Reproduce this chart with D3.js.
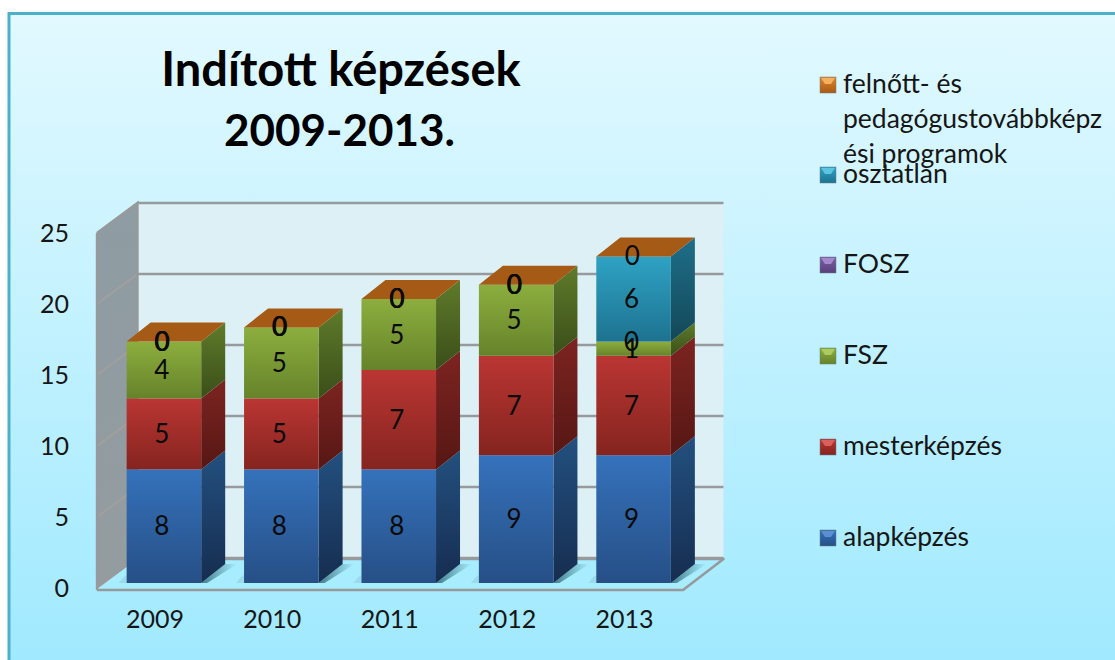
<!DOCTYPE html>
<html><head><meta charset="utf-8">
<script src="https://cdn.jsdelivr.net/npm/d3@7"></script>
<style>html,body{margin:0;padding:0;background:#fff;overflow:hidden}svg{display:block}text{font-family:Lato,"Open Sans",sans-serif;fill:#161616}</style>
</head><body><svg id="c" width="1115" height="660"></svg>
<script>
const categories = ["2009","2010","2011","2012","2013"];
const yTicks = [0,5,10,15,20,25];
const seriesNames = ["alapképzés","mesterképzés","FSZ","FOSZ","osztatlan","felnőtt- és pedagógustovábbképzési programok"];
const alapkepzes = [8,8,8,9,9];
const mesterkepzes = [5,5,7,7,7];
const fsz = [4,5,5,5,1];
const fosz = [0,0,0,0,0];
const osztatlan = [0,0,0,0,6];
const felnott = [0,0,0,0,0];
const seriesValues = [alapkepzes,mesterkepzes,fsz,fosz,osztatlan,felnott];
const frontColors = [["#3572bb","#264f86"],["#ba3633","#85241f"],["#8cae3e","#66832a"],["#7d5fa8","#57407a"],["#2fa2c4","#1d7390"],["#e2852a","#a85a16"]];
const sideColors  = [["#23507f","#162d50"],["#7d2421","#561714"],["#5f7b2b","#3a4e18"],["#4f3a70","#33244a"],["#1f6e8a","#134857"],["#a55a16","#7a4210"]];
const markerTops = ["#5b8fd0","#d9605c","#aacb5e","#a488cc","#5cc4e0","#f4b060"];
const legendLines = {5:["felnőtt- és","pedagógustovábbképz","ési programok"]};
const legendY = [538,447,356,265,175,85];

const svg = d3.select("#c");
const defs = svg.append("defs");
function grad(id,c0,c1,x2=0,y2=1){
  const g = defs.append("linearGradient").attr("id",id).attr("x1",0).attr("y1",0).attr("x2",x2).attr("y2",y2);
  g.append("stop").attr("offset",0).attr("stop-color",c0);
  g.append("stop").attr("offset",1).attr("stop-color",c1);
}
grad("bg","#e2f9ff","#9fe9ff");
grad("wall","#8e9ca3","#949c9f");
frontColors.forEach((c,i)=>grad("f"+i,c[0],c[1]));
sideColors.forEach((c,i)=>grad("s"+i,c[0],c[1]));
frontColors.forEach((c,i)=>grad("m"+i,c[0],c[1]));
grad("shadow","#3f7d8a","#a8ecff",1,0);

// panel
svg.append("rect").attr("x",9).attr("y",13.5).attr("width",1120).attr("height",660)
  .attr("fill","url(#bg)").attr("stroke","#4bb1c9").attr("stroke-width",3);

// scales: the front plane of the box and the depth offsets
const y = d3.scaleLinear().domain([0,25]).range([588,233]);
const x = d3.scaleBand().domain(categories).range([105.5,692]).paddingInner(0.365).paddingOuter(0.18);
const boxL = 97, boxR = 683, wallDx = 40.5, wallDy = -30;
const barBase = -5, barDx = 24, barDy = -19;
const poly = pts => pts.map(p=>p.join(",")).join(" ");

// walls
svg.append("polygon").attr("points",poly([[boxL+wallDx,y(25)+wallDy],[boxR+wallDx,y(25)+wallDy],[boxR+wallDx,y(0)+wallDy],[boxL+wallDx,y(0)+wallDy]])).attr("fill","#dcf0f6");
svg.append("polygon").attr("points",poly([[boxL,y(25)],[boxL+wallDx,y(25)+wallDy],[boxL+wallDx,y(0)+wallDy],[boxL,y(0)]])).attr("fill","url(#wall)");
svg.append("g").selectAll("path").data(yTicks).join("path")
  .attr("d",t=>`M${boxL},${y(t)}L${boxL+wallDx},${y(t)+wallDy}`)
  .attr("stroke","#a3a09c").attr("stroke-width",1.6).attr("fill","none");
svg.append("g").selectAll("path").data(yTicks).join("path")
  .attr("d",t=>`M${boxL+wallDx},${y(t)+wallDy}L${boxR+wallDx},${y(t)+wallDy}`)
  .attr("stroke","#979a9c").attr("stroke-width",2.6).attr("fill","none");
svg.append("path").attr("d",`M${boxL},${y(25)}V${y(0)+2}M${boxL},${y(25)}L${boxL+wallDx},${y(25)+wallDy}V${y(0)+wallDy}`)
  .attr("stroke","#979a9c").attr("stroke-width",2.4).attr("fill","none");
// floor
svg.append("polygon").attr("points",poly([[boxL,y(0)+2],[boxR,y(0)+2],[boxR+wallDx,y(0)+wallDy+1],[boxL+wallDx,y(0)+wallDy+1]])).attr("fill","#a8ecff");
svg.append("path").attr("d",`M${boxL},${y(0)+2}H${boxR}L${boxR+wallDx},${y(0)+wallDy+1}H${boxL+wallDx-10}`)
  .attr("stroke","#979a9c").attr("stroke-width",2.6).attr("fill","none").attr("stroke-linejoin","round");
svg.append("path").attr("d",`M${boxL},${y(0)+2}V${y(0)-1}L${boxL+wallDx},${y(0)+wallDy}`).attr("stroke","#979a9c").attr("stroke-width",1.5).attr("fill","none");

// bars
const w = x.bandwidth();
const barsG = svg.append("g");
categories.forEach((cat,ci)=>{
  const x0 = x(cat), x1 = x0+w, base = barBase;
  // floor shadow
  barsG.append("polygon").attr("points",poly([[x1,y(0)+base],[x1+barDx,y(0)+base+barDy],[x1+barDx+12,y(0)+base+barDy],[x1+6,y(0)+base]])).attr("fill","url(#shadow)");
  barsG.append("polygon").attr("points",poly([[x0-8,y(0)+base],[x0,y(0)+base],[x0,y(0)+base-8],[x0-3,y(0)+base-6]])).attr("fill","#8fd0de").attr("opacity",.6);
  let acc = 0;
  seriesValues.forEach((vals,si)=>{
    const v = vals[ci];
    if (v>0){
      const yb = y(acc)+base, yt = y(acc+v)+base;
      barsG.append("polygon").attr("points",poly([[x1,yb],[x1+barDx,yb+barDy],[x1+barDx,yt+barDy],[x1,yt]])).attr("fill",`url(#s${si})`);
      barsG.append("rect").attr("x",x0).attr("y",yt).attr("width",w).attr("height",yb-yt).attr("fill",`url(#f${si})`);
    }
    acc += v;
  });
  const yt = y(acc)+base;
  barsG.append("polygon").attr("points",poly([[x0,yt],[x1,yt],[x1+barDx,yt+barDy],[x0+barDx,yt+barDy]])).attr("fill","#a55a16");
});

// data labels
const labelsG = svg.append("g").attr("text-anchor","middle");
categories.forEach((cat,ci)=>{
  let acc = 0;
  seriesValues.forEach((vals,si)=>{
    const v = vals[ci];
    labelsG.append("text").attr("x",x(cat)+w/2-2+(v===0&&si===5?0.6:0)).attr("y",y(acc+v/2)+barBase+9).style("font-size","26px").style("fill","#0a0a0a").text(v);
    acc += v;
  });
});

// axes
const axisY = d3.axisLeft(y).tickValues(yTicks).tickSize(0).tickPadding(28);
svg.append("g").attr("transform",`translate(${boxL},0)`).call(axisY).call(g=>g.select(".domain").remove())
  .selectAll("text").style("font-size","25px").attr("dy","0.32em");
const axisX = d3.axisBottom(x).tickSize(0).tickPadding(20);
svg.append("g").attr("transform",`translate(-9,${y(0)+2})`).call(axisX).call(g=>g.select(".domain").remove())
  .selectAll("text").style("font-size","25px").attr("dy","0.71em");

// title
svg.append("text").attr("x",341).attr("y",86).attr("text-anchor","middle").style("font-size","47px").style("font-weight",700).style("fill","#000").text("Indított képzések");
svg.append("text").attr("x",339.5).attr("y",146).attr("text-anchor","middle").style("font-size","44px").style("font-weight",700).style("fill","#000").text("2009-2013.");

// legend
seriesNames.forEach((name,i)=>{
  const yc = legendY[i];
  svg.append("rect").attr("x",820).attr("y",yc-8).attr("width",16).attr("height",16).attr("fill",`url(#m${i})`).attr("stroke","#6a7d86").attr("stroke-width",.5);
  svg.append("polygon").attr("points",poly([[821,yc-7],[835,yc-7],[831,yc-1],[825,yc-1]])).attr("fill",markerTops[i]);
  (legendLines[i]||[name]).forEach((ln,k)=>{
    svg.append("text").attr("x",843).attr("y",yc+8+k*35).style("font-size","26.5px").text(ln);
  });
});
</script></body></html>
